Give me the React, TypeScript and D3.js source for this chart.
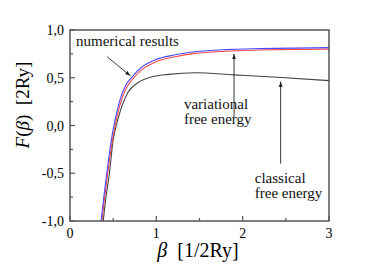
import React, { useEffect, useRef } from "react";
import * as d3 from "d3";

// numerical results (blue)
const betaNum = [0.36, 0.39, 0.425, 0.46, 0.5, 0.54, 0.58, 0.64, 0.72, 0.83, 0.98, 1.22, 1.45, 1.8, 2.2, 2.6, 3.0];
const fNum = [-1.0, -0.76, -0.51, -0.27, -0.04, 0.13, 0.27, 0.41, 0.51, 0.61, 0.685, 0.74, 0.772, 0.795, 0.805, 0.81, 0.815];

// variational free energy (red)
const betaVar = [0.37, 0.4, 0.435, 0.47, 0.51, 0.55, 0.59, 0.65, 0.73, 0.84, 0.99, 1.22, 1.45, 1.8, 2.2, 2.6, 3.0];
const fVar = [-1.0, -0.76, -0.51, -0.28, -0.06, 0.11, 0.25, 0.39, 0.49, 0.59, 0.665, 0.72, 0.755, 0.778, 0.79, 0.797, 0.8];

// classical free energy (grey)
const betaCl = [0.385, 0.415, 0.455, 0.5, 0.545, 0.6, 0.67, 0.79, 0.95, 1.14, 1.45, 1.9, 2.4, 3.0];
const fCl = [-1.0, -0.76, -0.51, -0.15, 0.03, 0.2, 0.345, 0.45, 0.51, 0.535, 0.552, 0.53, 0.505, 0.47];

const xTicks = [0, 1, 2, 3];
const yTicks = [1.0, 0.5, 0.0, -0.5, -1.0];

// annotations: text lines in data units, arrows from -> to
const labels = [
  { x: 0.07, y: 0.83, lines: ["numerical results"] },
  { x: 1.32, y: 0.17, lines: ["variational", "free energy"] },
  { x: 2.14, y: -0.6, lines: ["classical", "free energy"] },
];
const arrows = [
  { x1: 0.43, y1: 0.72, x2: 0.7, y2: 0.52 },
  { x1: 1.9, y1: 0.09, x2: 1.9, y2: 0.75 },
  { x1: 2.44, y1: -0.4, x2: 2.44, y2: 0.46 },
];

const fmt = (v: number) => v.toFixed(1).replace(".", ",");

export default function App() {
  const ref = useRef<SVGSVGElement>(null);
  const width = 382;
  const height = 264;
  const margin = { top: 30, right: 53, bottom: 43, left: 70 };

  useEffect(() => {
    const svg = d3.select(ref.current);
    svg.selectAll("*").remove();

    const x = d3.scaleLinear().domain([0, 3]).range([margin.left, width - margin.right]);
    const y = d3.scaleLinear().domain([-1, 1]).range([height - margin.bottom, margin.top]);

    svg.append("defs").append("marker")
      .attr("id", "ah").attr("viewBox", "0 0 10 10").attr("refX", 10).attr("refY", 5)
      .attr("markerWidth", 6).attr("markerHeight", 6).attr("orient", "auto")
      .append("path").attr("d", "M0,1.5L10,5L0,8.5Z").attr("fill", "#222");

    svg.append("clipPath").attr("id", "clip").append("rect")
      .attr("x", x(0)).attr("y", y(1)).attr("width", x(3) - x(0)).attr("height", y(-1) - y(1));

    const line = d3.line<[number, number]>().x((d) => x(d[0])).y((d) => y(d[1])).curve(d3.curveMonotoneX);
    const series = [
      { b: betaCl, f: fCl, color: "#444" },
      { b: betaVar, f: fVar, color: "#ff4a4a" },
      { b: betaNum, f: fNum, color: "#4a4aff" },
    ];
    series.forEach((s) => {
      svg.append("path")
        .datum(s.b.map((b, i) => [b, s.f[i]] as [number, number]))
        .attr("fill", "none").attr("stroke", s.color).attr("stroke-width", 1.1)
        .attr("clip-path", "url(#clip)")
        .attr("d", line);
    });

    // frame
    svg.append("rect")
      .attr("x", x(0)).attr("y", y(1)).attr("width", x(3) - x(0)).attr("height", y(-1) - y(1))
      .attr("fill", "none").attr("stroke", "#555").attr("stroke-width", 1.5);

    // inward ticks
    const g = svg.append("g").attr("stroke", "#555").attr("stroke-width", 1.2);
    d3.range(0, 3.01, 0.5).forEach((v) => {
      const len = Number.isInteger(v) ? 5 : 3;
      g.append("line").attr("x1", x(v)).attr("x2", x(v)).attr("y1", y(-1)).attr("y2", y(-1) - len);
    });
    d3.range(-1, 1.01, 0.25).forEach((v) => {
      const len = Math.abs(v * 2 - Math.round(v * 2)) < 1e-6 ? 5 : 3;
      g.append("line").attr("x1", x(0)).attr("x2", x(0) + len).attr("y1", y(v)).attr("y2", y(v));
    });

    svg.append("g").selectAll("text").data(xTicks).join("text")
      .attr("x", (d) => x(d)).attr("y", y(-1) + 17)
      .attr("text-anchor", "middle").attr("font-size", 14)
      .text((d) => String(d));

    svg.append("g").selectAll("text").data(yTicks).join("text")
      .attr("x", x(0) - 6).attr("y", (d) => y(d) + 5)
      .attr("text-anchor", "end").attr("font-size", 14)
      .text((d) => fmt(d));

    // axis titles
    const xt = svg.append("text").attr("x", 198).attr("y", 257)
      .attr("text-anchor", "middle").attr("font-size", 20);
    xt.append("tspan").attr("font-style", "italic").text("β");
    xt.append("tspan").text("\u00a0\u00a0[1/2Ry]");

    const yt = svg.append("text").attr("transform", "translate(29,105) rotate(-90)")
      .attr("text-anchor", "middle").attr("font-size", 19);
    yt.append("tspan").attr("font-style", "italic").text("F");
    yt.append("tspan").text("(");
    yt.append("tspan").attr("font-style", "italic").text("β");
    yt.append("tspan").text(")\u00a0\u00a0[2Ry]");

    // annotations
    arrows.forEach((a) => {
      svg.append("line")
        .attr("x1", x(a.x1)).attr("y1", y(a.y1)).attr("x2", x(a.x2)).attr("y2", y(a.y2))
        .attr("stroke", "#222").attr("stroke-width", 0.9).attr("marker-end", "url(#ah)");
    });
    labels.forEach((l) => {
      l.lines.forEach((t, i) => {
        svg.append("text").attr("x", x(l.x)).attr("y", y(l.y) + i * 15)
          .attr("font-size", 15).attr("fill", "#111").text(t);
      });
    });
  }, []);

  return (
    <svg ref={ref} width={width} height={height}
      style={{
        position: "absolute", left: 0, top: 0, background: "#fff",
        fontFamily: "'Liberation Serif', 'Times New Roman', 'DejaVu Serif', serif",
      }} />
  );
}
